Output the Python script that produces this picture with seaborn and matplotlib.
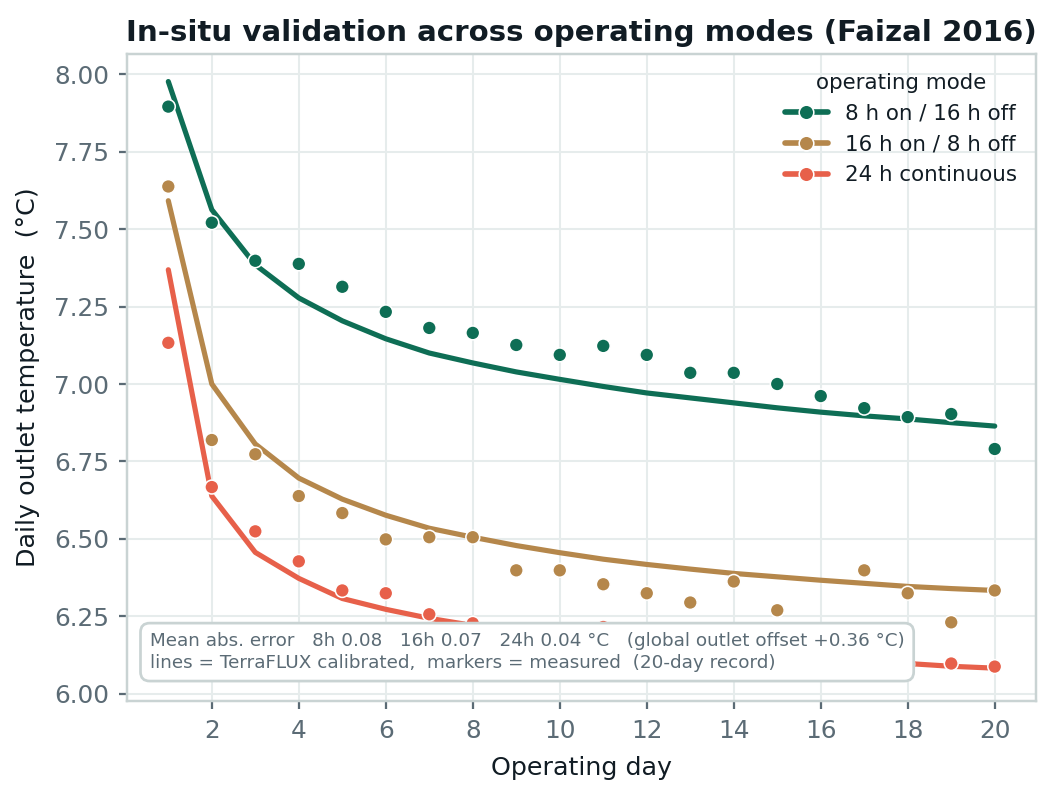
import numpy as np
import pandas as pd
import matplotlib
matplotlib.use("Agg")
import matplotlib.pyplot as plt
from matplotlib.lines import Line2D
import seaborn as sns

# operating days (20-day record)
days = list(range(1, 21))
modes = ["8 h on / 16 h off", "16 h on / 8 h off", "24 h continuous"]

# TerraFLUX calibrated model (lines)
model_8h = [7.977, 7.563, 7.385, 7.278, 7.204, 7.146, 7.100, 7.068, 7.039, 7.015,
            6.992, 6.971, 6.955, 6.939, 6.923, 6.909, 6.897, 6.887, 6.875, 6.864]
model_16h = [7.592, 7.000, 6.806, 6.696, 6.628, 6.576, 6.534, 6.505, 6.478, 6.455,
             6.434, 6.417, 6.402, 6.388, 6.377, 6.366, 6.356, 6.346, 6.339, 6.333]
model_24h = [7.369, 6.638, 6.456, 6.372, 6.307, 6.272, 6.243, 6.220, 6.200, 6.185,
             6.170, 6.155, 6.145, 6.135, 6.125, 6.115, 6.105, 6.097, 6.088, 6.082]

# measured daily outlet temperature (markers)
meas_8h = [7.896, 7.521, 7.398, 7.388, 7.314, 7.233, 7.181, 7.165, 7.126, 7.094,
           7.123, 7.094, 7.036, 7.036, 7.000, 6.961, 6.922, 6.893, 6.903, 6.790]
meas_16h = [7.638, 6.819, 6.773, 6.638, 6.583, 6.498, 6.505, 6.505, 6.398, 6.398,
            6.353, 6.324, 6.294, 6.362, 6.269, 6.190, 6.398, 6.324, 6.230, 6.333]
meas_24h = [7.133, 6.667, 6.524, 6.427, 6.333, 6.324, 6.256, 6.227, 6.190, 6.180,
            6.215, 6.150, 6.140, 6.130, 6.120, 6.110, 6.100, 6.095, 6.097, 6.087]

colors = ["#0e6e55", "#b5874b", "#e7604a"]
palette = dict(zip(modes, colors))

model = pd.DataFrame({
    "day": days * 3,
    "temp": model_8h + model_16h + model_24h,
    "mode": [m for m in modes for _ in days],
})
meas = pd.DataFrame({
    "day": days * 3,
    "temp": meas_8h + meas_16h + meas_24h,
    "mode": [m for m in modes for _ in days],
})

sns.set_theme(style="whitegrid")
plt.rcParams["font.family"] = ["DejaVu Sans"]

ink = "#111c24"
slate = "#5b6b75"
frame = "#c9d3d3"

fig, ax = plt.subplots(figsize=(6.5, 4.92), dpi=162)
fig.subplots_adjust(left=0.1206, right=0.9839, top=0.9322, bottom=0.1205)

sns.lineplot(data=model, x="day", y="temp", hue="mode", palette=palette,
             linewidth=2.3, legend=False, ax=ax, zorder=2)
sns.scatterplot(data=meas, x="day", y="temp", hue="mode", palette=palette,
                s=38, edgecolor="white", linewidth=0.7, legend=False, ax=ax, zorder=3)

ax.set_xlim(0.05, 20.95)
ax.set_ylim(5.976, 8.066)
ax.set_xticks(range(2, 21, 2))
ax.set_yticks([6.0, 6.25, 6.5, 6.75, 7.0, 7.25, 7.5, 7.75, 8.0])
ax.yaxis.set_major_formatter(matplotlib.ticker.FormatStrFormatter("%.2f"))

ax.grid(True, color="#e6ecec", linewidth=0.9)
for sp in ax.spines.values():
    sp.set_color(frame)
    sp.set_linewidth(1.1)
ax.tick_params(axis="both", colors=slate, labelsize=11, length=3.5, width=1,
               pad=4.5, bottom=True, left=True)

ax.set_xlabel("Operating day", fontsize=11.3, color=ink, labelpad=6)
ax.set_ylabel("Daily outlet temperature  (°C)", fontsize=11.3, color=ink, labelpad=6)
ax.set_title("In-situ validation across operating modes (Faizal 2016)",
             fontsize=13, fontweight="bold", color=ink, pad=6)

handles = [Line2D([0], [0], color=c, lw=2.5, marker="o", markersize=6.5,
                  markeredgecolor="white", markeredgewidth=0.7) for c in colors]
leg = ax.legend(handles, modes, title="operating mode", loc="upper right",
                frameon=False, fontsize=9.5, title_fontsize=9.5)
for t in leg.get_texts():
    t.set_color(ink)
leg.get_title().set_color(ink)

note = ("Mean abs. error   8h 0.08   16h 0.07   24h 0.04 °C   (global outlet offset +0.36 °C)\n"
        "lines = TerraFLUX calibrated,  markers = measured  (20-day record)")
ax.text(0.025, 0.045, note, transform=ax.transAxes, fontsize=8.2, color=slate,
        va="bottom", ha="left", zorder=5, linespacing=1.25,
        bbox=dict(boxstyle="round,pad=0.5", facecolor="white", edgecolor=frame,
                  linewidth=1.2, alpha=1.0))

fig.savefig("out.png", dpi=162)
